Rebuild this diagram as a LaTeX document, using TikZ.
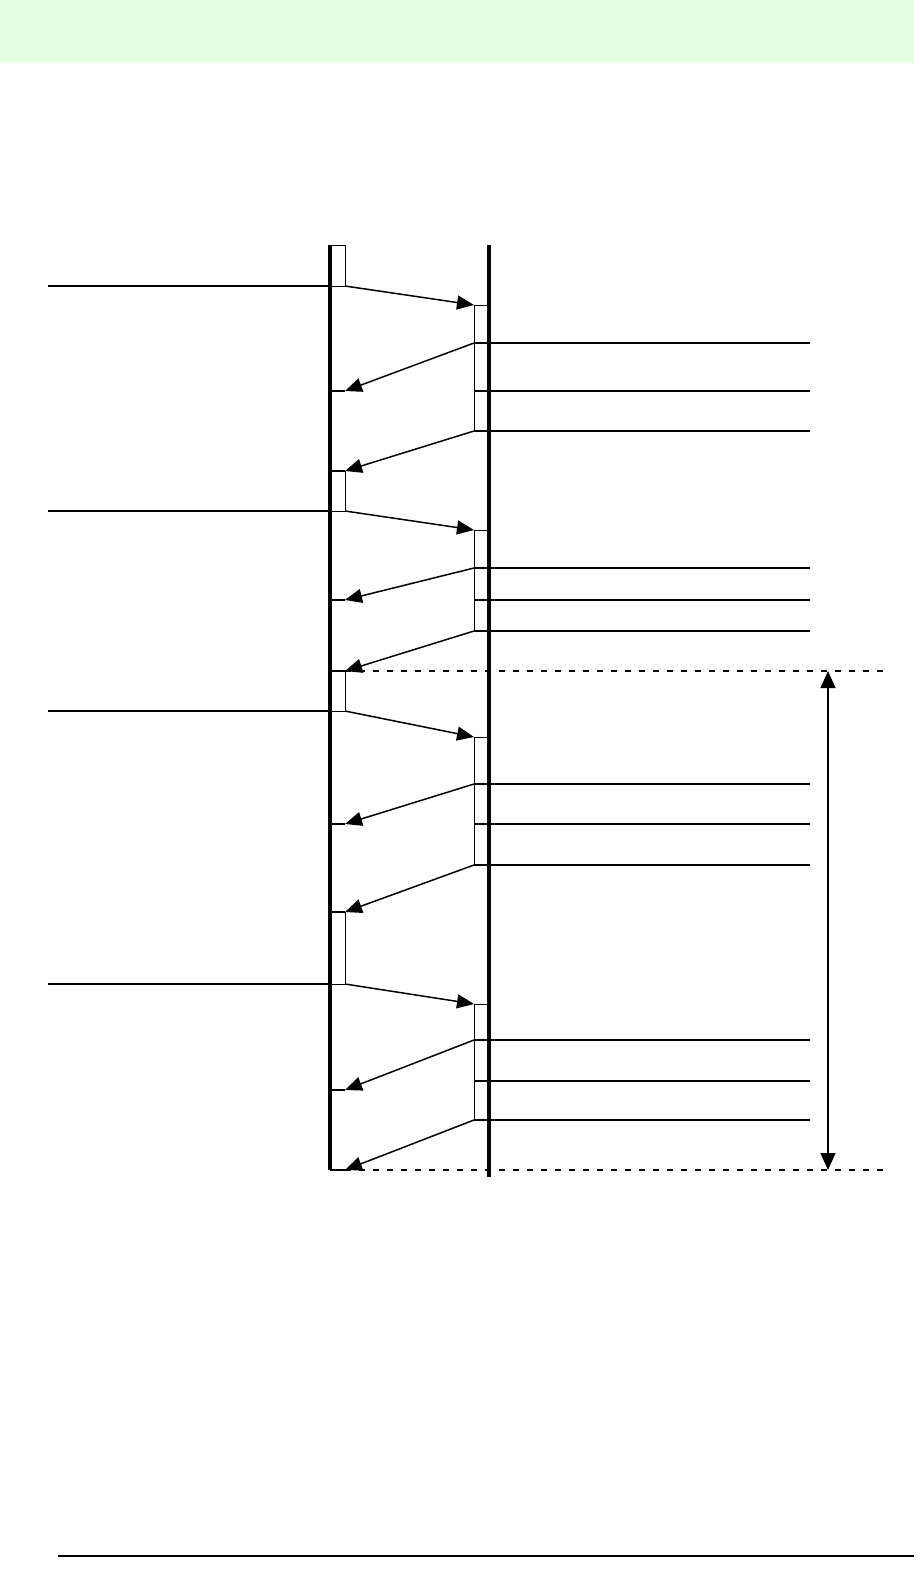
\documentclass[tikz,border=0pt]{standalone}
\usepackage{xcolor}
\usetikzlibrary{arrows.meta}
\definecolor{band}{HTML}{E2FFE2}
\tikzset{
  life/.style={line width=3.2pt},
  act/.style={draw,fill=white,line width=1pt},
  msg/.style={line width=1.5pt,-{Triangle[length=17pt,width=14pt]}},
  hit/.style={line width=2.4pt},
  wire/.style={line width=1.1pt},
  limit/.style={line width=1.5pt,dash pattern=on 6pt off 8pt},
}
\begin{document}
\begin{tikzpicture}[x=1pt,y=-1pt]
\useasboundingbox (0,0) rectangle (919,1583);
\fill[band](0,0)rectangle(913,63);
\draw[wire](58,1556)--(914,1556);
% lifelines
\coordinate (A0) at (330,245); \coordinate (A1) at (330,1170);
\coordinate (B0) at (489,245); \coordinate (B1) at (489,1177);
% rounds: box top / send / reply box top / div1 / div2 / box end / ack / next
\foreach \i/\lt/\s/\r/\p/\q/\e/\m/\n in {1/245/286/305/343/391/431/391/471,
  2/471/511/530/568/600/631/600/671,
  3/671/711/737/784/824/865/824/912,
  4/912/984/1004/1040/1081/1120/1090/1170}{
  \coordinate (in\i) at (48,\s);
  \coordinate (s\i) at (345,\s);
  \coordinate (r\i) at (474,\r);
  \coordinate (p\i) at (474,\p);
  \coordinate (e\i) at (474,\e);
  \coordinate (m\i) at (345,\m);
  \coordinate (n\i) at (345,\n);
  \draw[act](330,\lt)rectangle(345,\s);
  \draw[act](474,\r)rectangle(489,\e);
  \draw[wire](in\i)--(330,\s);
  \draw[wire](489,\p)--(810,\p) (489,\q)--(810,\q) (489,\e)--(810,\e);
  \draw[hit](474,\p)--(489,\p) (474,\q)--(489,\q) (474,\e)--(489,\e);
  \draw[hit](330,\m)--(m\i) (330,\n)--(n\i);
  \draw[msg](s\i)--(r\i);
  \draw[msg](p\i)--(m\i);
  \draw[msg](e\i)--(n\i);
}
\draw[life](A0)--(A1);
\draw[life](B0)--(B1);
% period
\draw[limit](n2)--(884,671);
\draw[limit](n4)--(884,1170);
\draw[line width=1.1pt,{Triangle[length=17pt,width=15pt]}-{Triangle[length=17pt,width=15pt]}](828,671)--(828,1170);
\end{tikzpicture}
\end{document}
